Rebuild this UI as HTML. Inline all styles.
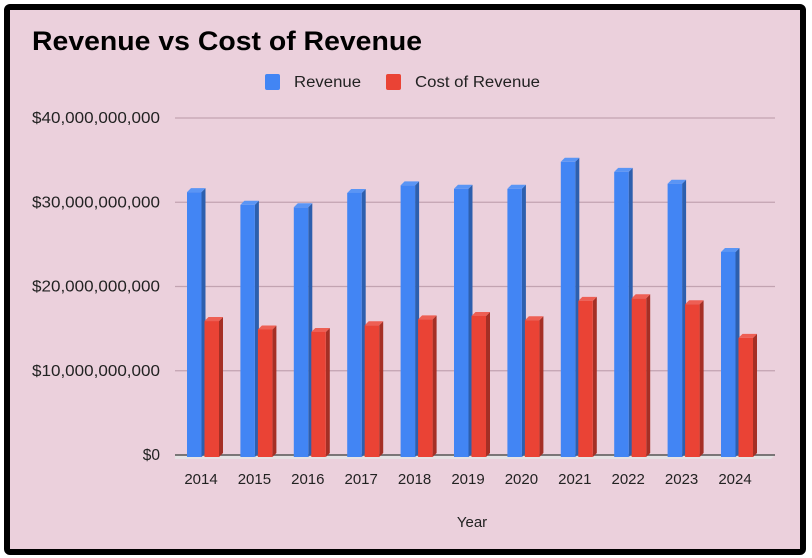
<!DOCTYPE html>
<html><head><meta charset="utf-8"><style>
html,body{margin:0;padding:0;background:#fff;}
body{width:812px;height:558px;overflow:hidden;position:relative;font-family:"Liberation Sans",Arial,sans-serif;}
#frame{position:absolute;left:4px;top:4px;width:790px;height:539px;border:6px solid #000;border-radius:6px;background:#ebd0dc;}
</style></head><body>
<div id="frame"></div>
<svg id="chart" width="812" height="558" style="position:absolute;left:0;top:0"></svg>
<script>
const years=["2014","2015","2016","2017","2018","2019","2020","2021","2022","2023","2024"];
const revenue=[31.2,29.7,29.4,31.1,32.0,31.6,31.6,34.8,33.6,32.2,24.1];
const costRevenue=[15.9,14.9,14.6,15.4,16.1,16.5,16.0,18.3,18.6,17.9,13.9];
const yTicks=[0,10,20,30,40];
const yTickLabels=["$0","$10,000,000,000","$20,000,000,000","$30,000,000,000","$40,000,000,000"];

const NS="http://www.w3.org/2000/svg";
const svg=document.getElementById('chart');
function el(t,a,p){const e=document.createElementNS(NS,t);for(const k in a)e.setAttribute(k,a[k]);(p||svg).appendChild(e);return e;}
const y0=455,y40=118,xL=175,xR=775;
function yS(v){return y0-(v/40)*(y0-y40);}
function xC(i){return 201+i*53.4;}

let t=el('text',{x:32,y:50,'font-size':27,'font-weight':'bold',fill:'#000',textLength:390,lengthAdjust:'spacingAndGlyphs'});t.textContent="Revenue vs Cost of Revenue";



// legend
let g=el('g',{});


el('rect',{x:265,y:74,width:15,height:16,rx:2,fill:'#4285f4'},g);
t=el('text',{x:294,y:87,'font-size':15.5,fill:'#222',textLength:67,lengthAdjust:'spacingAndGlyphs'},g);t.textContent="Revenue";
g=el('g',{});


el('rect',{x:386,y:74,width:15,height:16,rx:2,fill:'#ea4335'},g);
t=el('text',{x:415,y:87,'font-size':15.5,fill:'#222',textLength:125,lengthAdjust:'spacingAndGlyphs'},g);t.textContent="Cost of Revenue";

// grid
yTicks.forEach((v,i)=>{
  const y=yS(v);
  if(v>0){const l=el('line',{x1:xL,x2:xR,y1:y,y2:y,stroke:'#c2a3b1','stroke-width':1.3});
  
  }
  const lbl=yTickLabels[i];
  const tl=lbl.length>3?128*lbl.length/15:null;
  const attrs={x:160,y:y+5,'font-size':15.5,fill:'#222','text-anchor':'end'};
  if(tl){attrs.textLength=tl;attrs.lengthAdjust='spacingAndGlyphs';}
  const tx=el('text',attrs);tx.textContent=lbl;
  
  
});
// floor
el('polygon',{points:`${xL},${y0+4} ${xR-4},${y0+4} ${xR},${y0} ${xL},${y0}`,fill:'#e6e2e4'});
const ax=el('line',{x1:xL,x2:xR,y1:y0,y2:y0,stroke:'#555','stroke-width':1.5});



function bar(x,v,front,side,top,name){
  const w=14.5,d=4,y=yS(v);
  const b=el('g',{});
  
  
  el('polygon',{points:`${x+w},${y} ${x+w+d},${y-4} ${x+w+d},${y0-2} ${x+w},${y0+2}`,fill:side},b);
  el('polygon',{points:`${x},${y} ${x+d},${y-4} ${x+w+d},${y-4} ${x+w},${y}`,fill:top},b);
  el('rect',{x:x,y:y,width:w,height:y0+2-y,fill:front},b);
}
years.forEach((yr,i)=>{
  const c=xC(i);
  bar(c-14,revenue[i],'#4285f4','#2d5fae','#5a95f5','bar-revenue-'+yr);
  bar(c+3.5,costRevenue[i],'#ea4335','#a52f25','#ee5f54','bar-cost-'+yr);
  const tx=el('text',{x:c,y:484,'font-size':15,fill:'#222','text-anchor':'middle'});tx.textContent=yr;
  
  
});
t=el('text',{x:472,y:527,'font-size':15,fill:'#222','text-anchor':'middle'});t.textContent="Year";


</script>
</body></html>
